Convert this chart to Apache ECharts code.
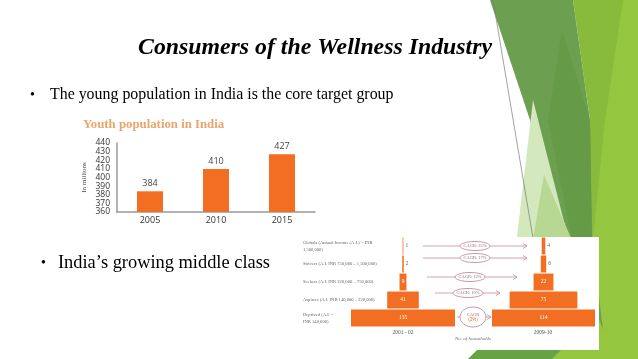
<!DOCTYPE html>
<html><head><meta charset="utf-8">
<script src="https://cdn.jsdelivr.net/npm/echarts@6/dist/echarts.min.js"></script>
<style>html,body{margin:0;padding:0;background:#fff}#c{width:638px;height:359px}</style>
</head><body><div id="c"></div>
<script>
// Youth population chart
const youthYears = ['2005', '2010', '2015'];
const youthValues = [384, 410, 427];
const youthTicks = [360, 370, 380, 390, 400, 410, 420, 430, 440];

// Middle-class pyramid (bottom tier first)
const tierLabels = [
  'Deprived (A.I. <\nINR 140,000)',
  'Aspirers (A.I. INR 140,000 – 320,000)',
  'Seekers (A.I. INR 320,000 – 750,000)',
  'Strivers (A.I. INR 750,000 – 1,500,000)',
  'Globals (Annual Income (A.I.) > INR\n1,500,000)'
];
const households2001 = [135, 41, 9, 2, 1];
const households2009 = [114, 75, 22, 6, 4];
const cagrLabels = ['CAGR (2%)', 'CAGR: 10%', 'CAGR: 12%', 'CAGR: 17%', 'CAGR: 25%'];

const chart = echarts.init(document.getElementById('c'), null, {renderer: 'canvas'});
const ORANGE = '#f26e22';
const max01 = Math.max(...households2001);
const max09 = Math.max(...households2009);
const off01 = households2001.map(v => (max01 - v) / 2);
const off09 = households2009.map(v => (max09 - v) / 2);
const pyrData = arr => arr.map(v => ({value: v, label: v <= 6 ? {position: 'right', color: '#666', distance: 2} : {}}));

const serif = '"Liberation Serif", "Times New Roman", serif';
const arrowCol = '#c98a9e';
const yMin = youthTicks[0], yMax = youthTicks[youthTicks.length - 1];
const tickStep = youthTicks[1] - youthTicks[0];

function arrow(x1, x2, y) {
  return [
    {type: 'line', z: 5, shape: {x1: x1, y1: y, x2: x2, y2: y}, style: {stroke: arrowCol, lineWidth: 0.8}},
    {type: 'polyline', z: 5, shape: {points: [[x2 - 4, y - 2.5], [x2, y], [x2 - 4, y + 2.5]]}, style: {stroke: arrowCol, lineWidth: 0.8, fill: null}}
  ];
}
function ell(cx, cy, rx, ry, txt) {
  return [
    {type: 'ellipse', z: 6, shape: {cx: cx, cy: cy, rx: rx, ry: ry}, style: {fill: '#fff', stroke: arrowCol, lineWidth: 0.9}},
    {type: 'text', z: 7, x: cx, y: cy, style: {text: txt, fontSize: 4.5, fontFamily: serif, fill: '#777', align: 'center', verticalAlign: 'middle', rich: {o: {fill: ORANGE, fontSize: 4.5}}}}
  ];
}

const graphics = [
  // decorative green shapes
  {type: 'polygon', z: 0, shape: {points: [[573,0],[638,0],[638,359],[540,359],[590,240],[590,120]]}, style: {fill: '#88ba3b'}},
  {type: 'polygon', z: 0, shape: {points: [[623,0],[638,0],[638,359],[550,359],[593,240],[605,120]]}, style: {fill: '#95c63f'}},
  {type: 'polygon', z: 0, shape: {points: [[490,0],[573,0],[590,120],[592,240],[603,330],[570,240]]}, style: {fill: '#6d9f50'}},
  {type: 'polygon', z: 0, shape: {points: [[562,30],[590,120],[592,240],[572,240],[548,120]]}, style: {fill: '#659b47'}},
  {type: 'polygon', z: 0, shape: {points: [[533,100],[570,245],[516,245]]}, style: {fill: '#d3e8bc'}},
  {type: 'polygon', z: 0, shape: {points: [[544,175],[574,245],[532,245]]}, style: {fill: '#b7d892'}},
  {type: 'polygon', z: 0, shape: {points: [[478,349],[562,349],[552,359],[468,359]]}, style: {fill: '#66a345'}},
  {type: 'line', z: 0, shape: {x1: 493, y1: 0, x2: 533, y2: 238}, style: {stroke: '#7a7a7a', lineWidth: 0.7}},
  // white panel behind the pyramid
  {type: 'rect', z: 1, shape: {x: 272, y: 237, width: 327, height: 113}, style: {fill: '#fff'}},
  // slide texts
  {type: 'text', z: 8, x: 315, y: 48, style: {text: 'Consumers of the Wellness Industry', fontSize: 23.8, fontStyle: 'italic', fontWeight: 'bold', fontFamily: serif, fill: '#000', align: 'center', verticalAlign: 'middle'}},
  {type: 'text', z: 8, x: 30, y: 95, style: {text: '•', fontSize: 14, fontFamily: serif, fill: '#000', verticalAlign: 'middle'}},
  {type: 'text', z: 8, x: 50, y: 95, style: {text: 'The young population in India is the core target group', fontSize: 15.9, fontFamily: serif, fill: '#000', verticalAlign: 'middle'}},
  {type: 'text', z: 8, x: 41, y: 263, style: {text: '•', fontSize: 14, fontFamily: serif, fill: '#000', verticalAlign: 'middle'}},
  {type: 'text', z: 8, x: 58, y: 263, style: {text: 'India’s growing middle class', fontSize: 18.4, fontFamily: serif, fill: '#000', verticalAlign: 'middle'}},
  {type: 'text', z: 8, x: 83, y: 125, style: {text: 'Youth population in India', fontSize: 12.8, fontWeight: 'bold', fontFamily: serif, fill: '#eba56c', verticalAlign: 'middle'}},
  // pyramid footer texts
  {type: 'text', z: 8, x: 403, y: 333, style: {text: '2001 - 02', fontSize: 5.5, fontFamily: serif, fill: '#555', align: 'center', verticalAlign: 'middle'}},
  {type: 'text', z: 8, x: 543, y: 333, style: {text: '2009-10', fontSize: 5.5, fontFamily: serif, fill: '#555', align: 'center', verticalAlign: 'middle'}},
  {type: 'text', z: 8, x: 473, y: 339, style: {text: 'No. of households', fontSize: 5, fontStyle: 'italic', fontFamily: serif, fill: '#666', align: 'center', verticalAlign: 'middle'}}
];
// CAGR arrows & ellipses (top to bottom)
const rows = [
  {y: 246, x1: 423, x2: 527, cx: 475, rx: 15, ry: 4.5, i: 4},
  {y: 258, x1: 423, x2: 527, cx: 475, rx: 15, ry: 4.5, i: 3},
  {y: 277, x1: 427, x2: 517, cx: 470, rx: 15, ry: 4.5, i: 2},
  {y: 293, x1: 435, x2: 500, cx: 468, rx: 15, ry: 4.5, i: 1}
];
rows.forEach(r => { graphics.push(...arrow(r.x1, r.x2, r.y)); graphics.push(...ell(r.cx, r.y, r.rx, r.ry, cagrLabels[r.i])); });
graphics.push(...arrow(457, 491, 317));
graphics.push(...ell(473, 317, 13, 10, 'CAGR\n{o|(2%)}'));

const yLabelStyle = {color: '#333', fontSize: 8.5, margin: 7, showMinLabel: true, showMaxLabel: true, fontFamily: '"Open Sans", sans-serif'};

chart.setOption({
  animation: false,
  backgroundColor: '#fff',
  graphic: {elements: graphics},
  grid: [
    {left: 117, top: 143, width: 198, height: 69},
    {left: 351, top: 237, width: 104, height: 90},
    {left: 492, top: 237, width: 103, height: 90}
  ],
  xAxis: [
    {gridIndex: 0, type: 'category', data: youthYears,
      axisLine: {lineStyle: {color: '#999', width: 1.5}}, axisTick: {show: false},
      axisLabel: {color: '#333', fontSize: 9, margin: 4, fontFamily: '"Open Sans", sans-serif'}},
    {gridIndex: 1, type: 'value', min: 0, max: max01, show: false},
    {gridIndex: 2, type: 'value', min: 0, max: max09, show: false}
  ],
  yAxis: [
    // main value axis: labels at 360, 380, ... 440
    {gridIndex: 0, type: 'value', min: yMin, max: yMax, interval: tickStep * 2,
      name: 'In millions', nameLocation: 'middle', nameGap: 29, nameRotate: 90,
      nameTextStyle: {fontSize: 7, fontFamily: serif, color: '#444'},
      axisLine: {show: true, lineStyle: {color: '#999', width: 1.5}}, axisTick: {show: false}, splitLine: {show: false},
      axisLabel: yLabelStyle},
    {gridIndex: 1, type: 'category', data: tierLabels, z: 10,
      axisLine: {show: false}, axisTick: {show: false},
      axisLabel: {align: 'left', margin: 48, interval: 0, fontSize: 4.6, lineHeight: 7, fontFamily: serif, color: '#666'}},
    {gridIndex: 2, type: 'category', data: tierLabels, show: false},
    // companion axis on the same scale: labels at 370, 390, ... 430
    {gridIndex: 0, type: 'value', min: yMin, max: yMax, interval: tickStep, position: 'left',
      axisLine: {show: false}, axisTick: {show: false}, splitLine: {show: false},
      axisLabel: Object.assign({}, yLabelStyle, {formatter: v => (Math.round((v - yMin) / tickStep) % 2 === 1 ? String(v) : '')})}
  ],
  series: [
    {type: 'bar', xAxisIndex: 0, yAxisIndex: 0, data: youthValues, barWidth: 26,
      itemStyle: {color: ORANGE},
      label: {show: true, position: 'top', color: '#444', fontSize: 9, distance: 3, fontFamily: '"Open Sans", sans-serif'}},
    {type: 'bar', xAxisIndex: 1, yAxisIndex: 1, stack: 'p1', data: off01, silent: true,
      itemStyle: {color: 'rgba(0,0,0,0)'}, barCategoryGap: '6%'},
    {type: 'bar', xAxisIndex: 1, yAxisIndex: 1, stack: 'p1', data: pyrData(households2001),
      itemStyle: {color: ORANGE}, barCategoryGap: '6%',
      label: {show: true, position: 'inside', color: '#fff', fontSize: 5.5, fontFamily: serif}},
    {type: 'bar', xAxisIndex: 2, yAxisIndex: 2, stack: 'p2', data: off09, silent: true,
      itemStyle: {color: 'rgba(0,0,0,0)'}, barCategoryGap: '6%'},
    {type: 'bar', xAxisIndex: 2, yAxisIndex: 2, stack: 'p2', data: pyrData(households2009),
      itemStyle: {color: ORANGE}, barCategoryGap: '6%',
      label: {show: true, position: 'inside', color: '#fff', fontSize: 5.5, fontFamily: serif}}
  ]
});
</script></body></html>
